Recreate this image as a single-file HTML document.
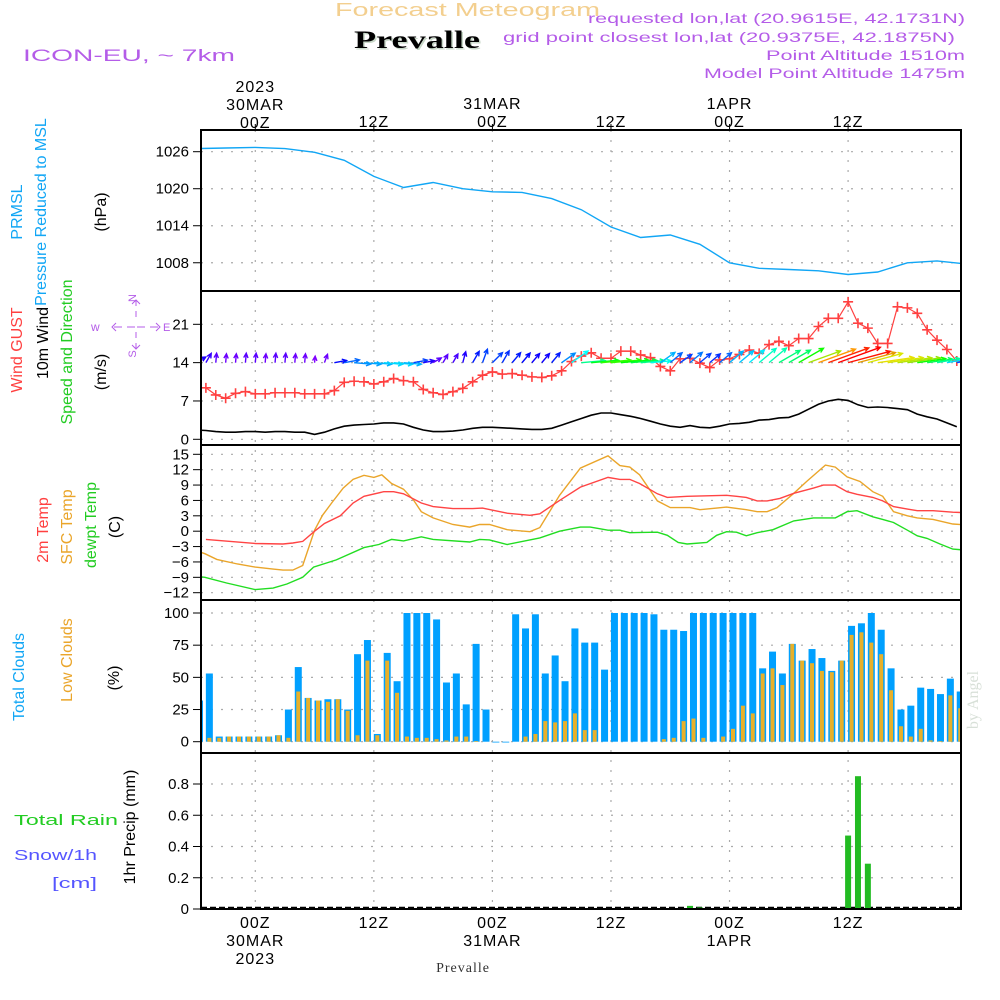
<!DOCTYPE html>
<html><head><meta charset="utf-8"><style>
html,body{margin:0;padding:0;background:#fff;}
svg{display:block;font-family:"Liberation Sans",sans-serif;}
</style></head><body>
<svg id="chart" width="1000" height="1000" viewBox="0 0 1000 1000" xmlns="http://www.w3.org/2000/svg">
<defs><clipPath id="plotclip"><rect x="201" y="130" width="760" height="779"/></clipPath></defs>
<g id="bg">
<text x="335" y="16" textLength="265" lengthAdjust="spacingAndGlyphs" font-size="18" fill="#f3cf8f">Forecast Meteogram</text>
<text x="355.5" y="49.5" textLength="126" lengthAdjust="spacingAndGlyphs" font-size="25" font-weight="bold" font-family="Liberation Serif,serif" fill="#c8d8c8">Prevalle</text>
<text x="354" y="48" textLength="126" lengthAdjust="spacingAndGlyphs" font-size="25" font-weight="bold" font-family="Liberation Serif,serif" fill="#000">Prevalle</text>
<text x="23" y="61" textLength="212" lengthAdjust="spacingAndGlyphs" font-size="17" fill="#b45ce8">ICON-EU, ~ 7km</text>
<g font-size="14" fill="#b45ce8">
<text x="588" y="23" textLength="377" lengthAdjust="spacingAndGlyphs">requested lon,lat (20.9615E, 42.1731N)</text>
<text x="503" y="42" textLength="452" lengthAdjust="spacingAndGlyphs">grid point closest lon,lat (20.9375E, 42.1875N)</text>
<text x="766" y="60" textLength="199" lengthAdjust="spacingAndGlyphs">Point Altitude 1510m</text>
<text x="704" y="78" textLength="261" lengthAdjust="spacingAndGlyphs">Model Point Altitude 1475m</text>
</g>
<text x="978" y="700" transform="rotate(-90 978 700)" text-anchor="middle" font-size="16" font-family="Liberation Serif,serif" fill="#d8e0d8">by Angel</text>
</g>
<g id="layers"></g>
</svg>
<script>
// ---- data ----
const presHours = [-6,-3,0,3,6,9,12,15,18,21,24,27,30,33,36,39,42,45,48,51,54,57,60,63,66,69,72];
const presVals = [1026.5,1026.6,1026.7,1026.5,1025.9,1024.6,1022.0,1020.2,1021.0,1020.0,1019.5,1019.4,1018.4,1016.6,1013.8,1012.1,1012.5,1011.0,1008.0,1007.1,1006.9,1006.7,1006.1,1006.5,1008.0,1008.3,1007.8];
const presTicks = [1026,1020,1014,1008];

const windStart = -6;
const windSpeed = [1.7,1.6,1.4,1.3,1.3,1.4,1.4,1.3,1.4,1.4,1.3,1.3,0.9,1.3,1.9,2.4,2.6,2.7,2.8,3.0,3.0,2.8,2.2,1.7,1.4,1.4,1.5,1.7,2.0,2.2,2.2,2.1,2.0,1.9,1.8,1.8,2.0,2.6,3.2,3.8,4.4,4.8,4.8,4.5,4.2,3.8,3.3,2.8,2.4,2.2,2.5,2.2,2.1,2.4,2.8,2.9,3.1,3.5,3.6,3.9,4.0,4.6,5.5,6.4,7.0,7.3,7.1,6.3,5.8,5.9,5.8,5.6,5.4,4.6,4.1,3.7,3.0,2.3];
const windDir = [30,60,85,85,85,85,85,85,85,85,85,85,85,70,10,10,-5,-5,-5,-5,-5,-5,10,10,30,60,60,75,60,70,45,60,50,50,50,50,50,35,35,5,5,5,5,5,5,5,5,35,40,35,40,40,40,40,40,40,40,40,40,30,30,30,20,20,20,20,15,15,15,8,8,8,8,8,8,10,10,10];
const gustStart = -5;
const gustVals = [9.4,8.1,7.5,8.4,8.7,8.3,8.3,8.5,8.5,8.5,8.3,8.3,8.3,8.9,10.4,10.6,10.5,10.1,10.5,11.1,10.7,10.5,9.1,8.5,8.2,8.7,9.3,10.5,11.7,12.3,11.9,12.0,11.7,11.4,11.3,11.6,12.5,14.2,15.2,15.8,14.8,14.8,16.1,16.1,15.4,14.9,13.3,12.5,14.7,14.8,13.9,13.1,14.5,14.7,15.5,16.3,15.7,17.3,17.9,17.1,18.4,18.4,20.6,22.1,22.1,25.1,21.2,20.3,17.5,17.5,24.2,24.0,23.0,20.0,18.1,16.4,14.3];
const windTicks = [0,7,14,21];

const t2Hours = [-5,0,2.8,3.8,4.8,6,7,8.6,9.9,11,13,14,15,16.8,18,20,22,23,25.5,27.8,28.8,30.8,32.9,35.7,36.9,37.9,38.9,40.7,41.7,43.7,45.7,47.7,48.7,49.7,50.8,51.8,53.1,54.5,56.5,57.5,58.7,59.9,60.9,62.5,63.5,64.6,66,67,68.6,70.6,72];
const t2Vals = [-1.6,-2.4,-2.5,-2.3,-2.0,0,1.5,3.0,5.5,6.8,7.7,7.7,7.3,5.5,4.8,4.4,4.4,4.5,3.5,3.1,3.4,6.0,8.6,10.5,10.1,10.1,9.3,7.3,6.6,6.8,6.9,7.0,6.8,6.6,5.9,5.9,6.4,7.4,8.4,9.0,9.0,7.7,7.2,6.6,5.9,4.8,4.3,4.0,4.0,3.7,3.6];
const sfcHours = [-6,-5.1,-3.9,-1.8,0,1.8,2.8,3.8,4.8,5.5,6,6.8,7.8,8.9,9.9,11,12,12.8,13.8,15,16,16.8,18,20,21.7,22.7,23.7,25.5,27.8,28.8,30.8,32.9,35.7,36.9,37.9,38.9,40.7,42,44,45,47.7,49.7,50.8,51.8,52.8,54.5,55.8,57.7,58.7,59.9,61.2,62.5,63.5,64.6,66,67,68.6,70.6,72];
const sfcVals = [-3.8,-4.4,-5.5,-6.4,-7.0,-7.4,-7.6,-7.6,-6.7,-2.7,0.2,3.1,5.7,8.4,10.1,10.9,10.5,11.0,9.3,8.2,6.1,3.8,2.6,1.3,0.8,1.3,1.3,0.3,-0.1,0.7,7.0,12.3,14.7,12.8,12.5,11.0,5.9,4.6,4.6,4.2,4.7,4.2,3.8,3.8,4.6,7.4,9.7,12.9,12.5,10.6,9.7,7.7,6.8,3.8,3.0,2.6,2.3,1.4,1.2];
const tdHours = [-6,-5.1,-2.9,0,1.8,3.2,4.8,5.9,8.2,11,12.5,13.8,15,16.8,18,21.7,22.7,23.7,25.5,28.8,30.8,32.9,33.9,35.7,36.9,37.9,40.7,41.7,42.8,43.7,45.7,46.7,47.7,48.7,49.7,50.8,52.4,54.5,56.5,58.7,59.9,60.9,62.5,63.5,64.6,66,67,68,69.3,70.6,72];
const tdVals = [-8.8,-9.0,-10.1,-11.4,-11.1,-10.3,-9.0,-7.0,-5.6,-3.2,-2.6,-1.6,-1.9,-1.1,-1.6,-2.1,-1.6,-1.7,-2.6,-1.3,0,0.8,0.8,0.2,0.2,-0.3,-0.2,-0.8,-2.2,-2.5,-2.2,-0.8,-0.1,-0.2,-0.9,-0.3,0.3,2.0,2.6,2.6,3.8,4.0,2.8,2.3,1.7,0.2,-0.9,-1.4,-2.5,-3.5,-3.7];
const tempTicks = [15,12,9,6,3,0,-3,-6,-9,-12];

const cloudStart = -6;
const totalCloud = [32,53,4,4,4,4,4,4,5,25,58,34,32,33,33,25,68,79,6,69,47,100,100,100,95,46,53,29,76,25,0,0,99,88,99,53,67,47,88,77,77,56,100,100,100,100,99,87,87,86,100,100,100,100,100,100,100,57,70,53,76,63,72,65,55,63,90,92,100,87,57,25,28,42,41,37,49,39];
const lowCloud = [18,3,3,4,4,4,4,4,5,3,39,34,32,31,33,24,5,63,5,63,38,4,3,3,2,1,4,4,0.5,0,0,0,0,4,6,16,15,16,22,9,9,0,0,0,0,0,0,2,3,16,18,3,0,4,10,28,22,53,57,44,76,63,61,55,54,63,83,85,77,68,40,12,4,10,1,0.5,36,26];
const cloudTicks = [0,25,50,75,100];

const precipHours = [44,45,60,61,62];
const precipVals = [0.02,0.01,0.47,0.85,0.29];
const precipTicks = [0,0.2,0.4,0.6,0.8];
const precipTickLabels = ["0","0.2","0.4","0.6","0.8"];

// ---- axes ----
const X0 = 201, X1 = 961;
const xs = h => 255.3 + h * 9.88;
const yP = p => 151.7 + (1026 - p) * 6.17;
const yW = v => 439.3 - v * 5.476;
const yT = t => 454.3 + (15 - t) * 5.126;
const yC = v => 741.7 - v * 1.287;
const yR = v => 909 - v * 156.25;
const panels = [[130,291],[291,445],[445,600],[600,753],[753,909]];
const NS = "http://www.w3.org/2000/svg";
const layers = document.getElementById('layers');
function mk(tag, attrs, parent){ const e=document.createElementNS(NS,tag); for(const k in attrs) e.setAttribute(k,attrs[k]); (parent||layers).appendChild(e); return e; }

// grid
const grid = mk('g',{});


[0,12,24,36,48,60].forEach(h=>{
  const l=mk('line',{x1:xs(h),x2:xs(h),y1:130,y2:909,stroke:'#aaa','stroke-width':1.2,'stroke-dasharray':'2,8'},grid);
  
  
});
function hgrid(vals, fy, name){
  vals.forEach(v=>{
    const l=mk('line',{x1:X0,x2:X1,y1:fy(v),y2:fy(v),stroke:'#aaa','stroke-width':1.2,'stroke-dasharray':'2,8'},grid);
    
    
  });
}
hgrid(presTicks,yP,'pressure-gridline');
hgrid(windTicks,yW,'wind-gridline');
hgrid(tempTicks,yT,'temp-gridline');
hgrid(cloudTicks,yC,'cloud-gridline');
hgrid(precipTicks.slice(1),yR,'precip-gridline');

// tick labels
function yticks(vals, labels, fy, name){
  const g=mk('g',{'font-size':15,'text-anchor':'end',fill:'#000'});
  
  
  vals.forEach((v,i)=>{
    const t=mk('text',{x:189,y:fy(v)+5},g); t.textContent=labels[i];
    
    
    mk('line',{x1:193,x2:201,y1:fy(v),y2:fy(v),stroke:'#000','stroke-width':1},g);
  });
}
yticks(presTicks,presTicks.map(String),yP,'pressure-y-axis');
yticks(windTicks,windTicks.map(String),yW,'wind-y-axis');
yticks(tempTicks,tempTicks.map(v=>v<0?'\u2212'+(-v):String(v)),yT,'temp-y-axis');
yticks(cloudTicks,cloudTicks.map(String),yC,'cloud-y-axis');
yticks(precipTicks,precipTickLabels,yR,'precip-y-axis');

const plot = mk('g',{'clip-path':'url(#plotclip)'});



function poly(hours, vals, fy, color, name, w){
  const d=hours.map((h,i)=>(i?'L':'M')+xs(h).toFixed(1)+','+fy(vals[i]).toFixed(1)).join('');
  const p=mk('path',{d:d,fill:'none',stroke:color,'stroke-width':w||1.4},plot);
  
  
}
// pressure
poly(presHours,presVals,yP,'#11a6f5','pressure-line');
// wind speed
poly(windSpeed.map((v,i)=>i+windStart),windSpeed,yW,'#000','wind-speed-line',1.6);
// gust
const gustH = gustVals.map((v,i)=>i+gustStart);
poly(gustH,gustVals,yW,'#ff4040','gust-line',1.2);
gustVals.forEach((v,i)=>{
  const x=xs(gustH[i]), y=yW(v);
  const m=mk('path',{d:`M${x-5},${y}H${x+5}M${x},${y-5}V${y+5}`,stroke:'#ff4040','stroke-width':1.6},plot);
  
  
});
// wind arrows
windSpeed.forEach((s,i)=>{
  const h=i+windStart, a=windDir[i]*Math.PI/180, L=6*s+1;
  const x0=xs(h), y0=yW(14), x1=x0+L*Math.cos(a), y1=y0-L*Math.sin(a);
  let hue=270-(s-1.2)*45; hue=Math.max(0,Math.min(270,hue));
  const c=`hsl(${hue},100%,${hue>40&&hue<90?45:50}%)`;
  const b1=a+Math.PI-0.45, b2=a+Math.PI+0.45;
  const d=`M${x0},${y0}L${x1},${y1}M${x1+5*Math.cos(b1)},${y1-5*Math.sin(b1)}L${x1},${y1}L${x1+5*Math.cos(b2)},${y1-5*Math.sin(b2)}`;
  const p=mk('path',{d:d,fill:'none',stroke:c,'stroke-width':1.4},plot);
  
  
});
// temps
poly(sfcHours,sfcVals,yT,'#eaa52a','sfc-temp-line');
poly(t2Hours,t2Vals,yT,'#ff4444','2m-temp-line');
poly(tdHours,tdVals,yT,'#22dd22','dewpoint-line');
// clouds (bars offset slightly right of the hour, as in the source plot)
totalCloud.forEach((v,i)=>{
  const x=xs(i+cloudStart+0.35);
  const r=mk('rect',{x:x-3.5,y:yC(v),width:7,height:Math.max(0.8,yC(0)-yC(v)),fill:'#00a0ff'},plot);
  
  
  const lv=lowCloud[i];
  const r2=mk('rect',{x:x-2,y:yC(lv),width:4,height:Math.max(0,yC(0)-yC(lv)),fill:'#e8b02a'},plot);
  
  
});
// precip
mk('line',{x1:X0,x2:X1,y1:907.5,y2:907.5,stroke:'#000','stroke-width':1.5,'stroke-dasharray':'6,3'},plot);
precipVals.forEach((v,i)=>{
  const x=xs(precipHours[i]);
  const r=mk('rect',{x:x-3,y:yR(v),width:6,height:yR(0)-yR(v),fill:'#22bb22'},plot);
  
  
});
// frames
panels.forEach(p=>{
  const r=mk('rect',{x:X0,y:p[0],width:X1-X0,height:p[1]-p[0],fill:'none',stroke:'#000','stroke-width':2});
  
  
});

// x labels
function xl(h, lines, y0, name){
  lines.forEach((s,k)=>{
    const t=mk('text',{x:xs(h),y:y0+k*18,'text-anchor':'middle','font-size':16,fill:'#000','letter-spacing':'1'}); t.textContent=s;
    
    
  });
}
xl(0,['2023','30MAR','00Z'],92,'top-x-label');
xl(12,['12Z'],127,'top-x-label');
xl(24,['31MAR','00Z'],109,'top-x-label');
xl(36,['12Z'],127,'top-x-label');
xl(48,['1APR','00Z'],109,'top-x-label');
xl(60,['12Z'],127,'top-x-label');
xl(0,['00Z','30MAR','2023'],928,'bottom-x-label');
xl(12,['12Z'],928,'bottom-x-label');
xl(24,['00Z','31MAR'],928,'bottom-x-label');
xl(36,['12Z'],928,'bottom-x-label');
xl(48,['00Z','1APR'],928,'bottom-x-label');
xl(60,['12Z'],928,'bottom-x-label');
[0,12,24,36,48,60].forEach(h=>{
  mk('line',{x1:xs(h),x2:xs(h),y1:130,y2:124,stroke:'#000'});
});
</script>
<script>
// static rotated axis titles
(function(){
const NS="http://www.w3.org/2000/svg", svg=document.getElementById('chart');
const labels=[
 ['PRMSL',22,212,'#11a6f5','pressure-label'],
 ['Pressure Reduced to MSL',46,212,'#11a6f5','pressure-label-2'],
 ['(hPa)',106,212,'#000','pressure-unit'],
 ['Wind GUST',22,350,'#ff4040','gust-label'],
 ['10m Wind',48,343,'#000','wind-label'],
 ['Speed and Direction',72,352,'#22cc22','wind-dir-label'],
 ['(m/s)',106,372,'#000','wind-unit'],
 ['2m Temp',48,530,'#ff4040','temp-label'],
 ['SFC Temp',72,527,'#eaa52a','sfc-temp-label'],
 ['dewpt Temp',96,525,'#22cc22','dewpoint-label'],
 ['(C)',120,527,'#000','temp-unit'],
 ['Total Clouds',24,677,'#11a6f5','total-cloud-label'],
 ['Low Clouds',72,660,'#eaa52a','low-cloud-label'],
 ['(%)',119,678,'#000','cloud-unit'],
 ['1hr Precip (mm)',135,827,'#000','precip-unit']];
labels.forEach(l=>{
 const t=document.createElementNS(NS,'text');
 t.setAttribute('x',l[1]);t.setAttribute('y',l[2]);
 t.setAttribute('transform',`rotate(-90 ${l[1]} ${l[2]})`);
 t.setAttribute('text-anchor','middle');t.setAttribute('font-size','16');t.setAttribute('fill',l[3]);
 
 
 t.textContent=l[0]; svg.appendChild(t);
});
const hz=[['Total   Rain',14,825,'#22cc22','rain-label',104],['Snow/1h',14,860,'#5555ff','snow-label',83],['[cm]',52,888,'#5555ff','snow-unit',45],['w',91,331,'#b45ce8','compass-w',0]];
hz.forEach(l=>{
 const t=document.createElementNS(NS,'text');
 t.setAttribute('x',l[1]);t.setAttribute('y',l[2]);t.setAttribute('font-size',l[4]==='compass-w'?'12':'15');t.setAttribute('fill',l[3]);
 if(l[5]){t.setAttribute('textLength',l[5]);t.setAttribute('lengthAdjust','spacingAndGlyphs');}
 
 
 t.textContent=l[0]; svg.appendChild(t);
});
const c=document.createElementNS(NS,'g');


c.innerHTML='<path d="M114,327h8M127,327h8M137,327h8M150,327h8M116,323l-4,4l4,4M156,323l4,4l-4,4M136,300v6M136,311v6M136,332v6M136,343v6M132,304l4,-4l4,4M132,345l4,4l4,-4" stroke="#b45ce8" fill="none" stroke-width="1"/><text x="136" y="298" font-size="11" fill="#b45ce8" text-anchor="middle" transform="rotate(-90 136 298)">N</text><text x="136" y="354" font-size="11" fill="#b45ce8" text-anchor="middle" transform="rotate(-90 136 354)">S</text><text x="163" y="331" font-size="11" fill="#b45ce8">E</text>';
svg.appendChild(c);
const p=document.createElementNS(NS,'text');
p.setAttribute('x','463');p.setAttribute('y','972');p.setAttribute('text-anchor','middle');
p.setAttribute('font-size','14');p.setAttribute('font-family','Liberation Serif,serif');p.setAttribute('fill','#333');p.setAttribute('letter-spacing','1');


p.textContent='Prevalle'; svg.appendChild(p);
})();
</script>
</body></html>
